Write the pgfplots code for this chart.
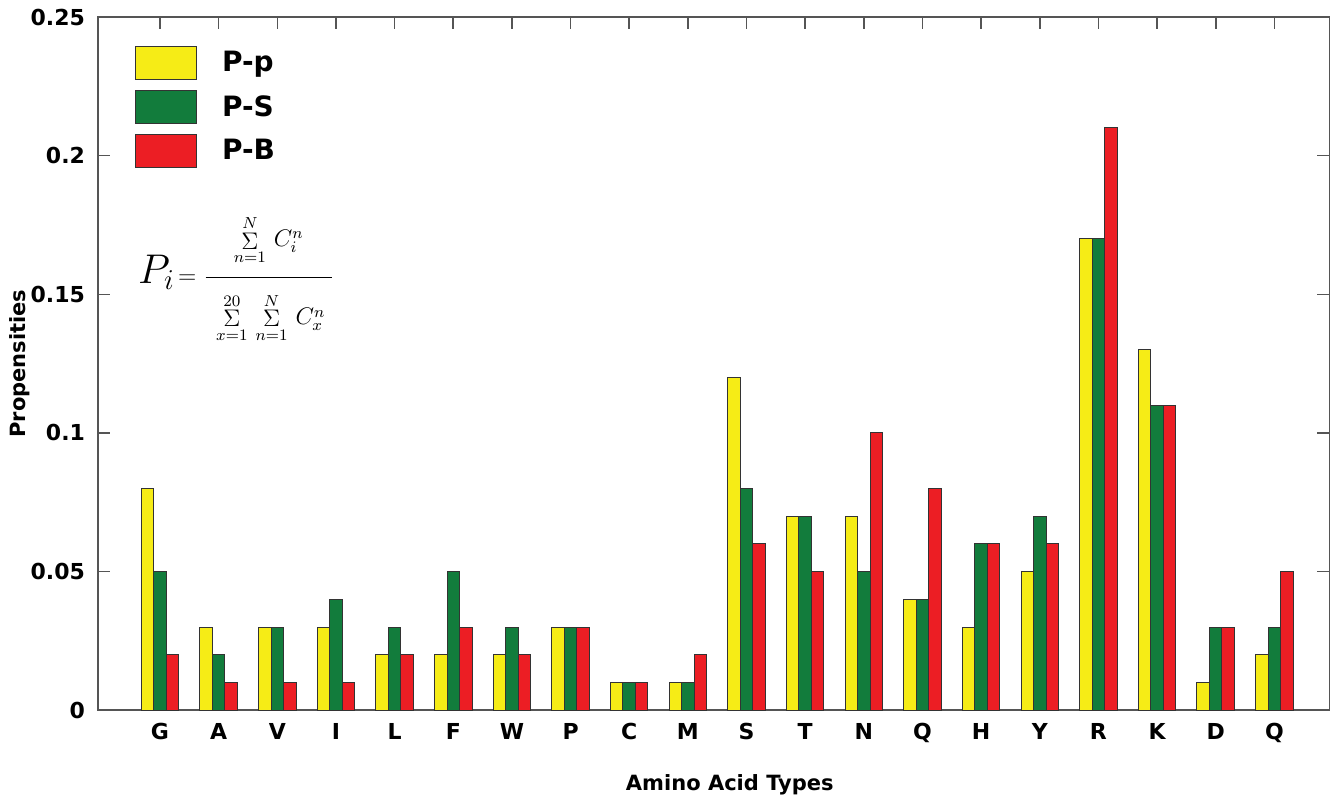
\documentclass[border=0pt]{standalone}
\usepackage{fontspec}
\setmainfont{DejaVu Sans}
\usepackage{pgfplots}
\pgfplotsset{compat=1.18}
\definecolor{cyel}{RGB}{246,236,22}
\definecolor{cgrn}{RGB}{18,124,60}
\definecolor{cred}{RGB}{236,30,36}
\definecolor{axgray}{RGB}{85,85,85}
\pgfplotsset{myleg/.style={legend image code/.code={\draw[##1, line width=0.5pt] (0pt,-8.25pt) rectangle (30.5pt,8.25pt);}}}
\newcommand{\Sg}{\mathop{\Sigma}\limits}
\begin{document}
\begin{tikzpicture}
\useasboundingbox (-49pt,-44.5pt) rectangle (615.75pt,355pt);
\begin{axis}[
 scale only axis, width=615.5pt, height=346.5pt,
 at={(0,0)}, anchor=south west,
 ybar, bar width=0.213,
 xmin=-1.057, xmax=19.94, ymin=0, ymax=0.25,
 xtick={0,...,19},
 xticklabels={G,A,V,I,L,F,W,P,C,M,S,T,N,Q,H,Y,R,K,D,Q},
 xtick pos=upper, xticklabel pos=lower,
 ytick={0,0.05,0.1,0.15,0.2,0.25},
 yticklabels={0,0.05,0.1,0.15,0.2,0.25},
 tick align=inside, major tick length=6pt,
 axis line style={axgray, line width=0.8pt},
 tick style={axgray, line width=0.8pt},
 ticklabel style={font=\bfseries\fontsize{11}{13}\selectfont, text=black},
 xticklabel style={yshift=-3pt},
 yticklabel style={xshift=-3pt},
 xlabel={Amino Acid Types}, ylabel={Propensities},
 label style={font=\bfseries\fontsize{10.5}{12}\selectfont},
 xlabel style={at={(axis description cs:0.513,-0.108)}, anchor=center},
 ylabel style={at={(axis description cs:-0.0634,0.5)}, anchor=center},
 legend style={at={(axis description cs:0.030,0.958)}, anchor=north west,
   draw=none, fill=none, inner sep=0pt, outer sep=0pt,
   font=\bfseries\fontsize{14}{16}\selectfont, row sep=5pt, column sep=11.5pt,
   nodes={inner sep=1pt}},
 legend cell align=left,
]
\addplot[myleg, fill=cyel, draw=black!80, line width=0.5pt, bar shift=-0.213] coordinates {
(0,0.08) (1,0.03) (2,0.03) (3,0.03) (4,0.02) (5,0.02) (6,0.02) (7,0.03) (8,0.01) (9,0.01)
(10,0.12) (11,0.07) (12,0.07) (13,0.04) (14,0.03) (15,0.05) (16,0.17) (17,0.13) (18,0.01) (19,0.02)};
\addplot[myleg, fill=cgrn, draw=black!80, line width=0.5pt, bar shift=0] coordinates {
(0,0.05) (1,0.02) (2,0.03) (3,0.04) (4,0.03) (5,0.05) (6,0.03) (7,0.03) (8,0.01) (9,0.01)
(10,0.08) (11,0.07) (12,0.05) (13,0.04) (14,0.06) (15,0.07) (16,0.17) (17,0.11) (18,0.03) (19,0.03)};
\addplot[myleg, fill=cred, draw=black!80, line width=0.5pt, bar shift=0.213] coordinates {
(0,0.02) (1,0.01) (2,0.01) (3,0.01) (4,0.02) (5,0.03) (6,0.02) (7,0.03) (8,0.01) (9,0.02)
(10,0.06) (11,0.05) (12,0.10) (13,0.08) (14,0.06) (15,0.06) (16,0.21) (17,0.11) (18,0.03) (19,0.05)};
\legend{P-p,P-S,P-B}
\node[anchor=center, inner sep=0pt] at (axis cs:1.30,0.1555) {{\fontsize{20}{22}\selectfont$P_{i}$}\,{\fontsize{12}{14}\selectfont$=\displaystyle\frac{\Sg_{n=1}^{N}\, C_i^n\rule[-14pt]{0pt}{10pt}}{\rule{0pt}{22pt}\;\Sg_{x=1}^{20}\,\Sg_{n=1}^{N}\, C_x^n\;}$}};
\end{axis}
\end{tikzpicture}
\end{document}
